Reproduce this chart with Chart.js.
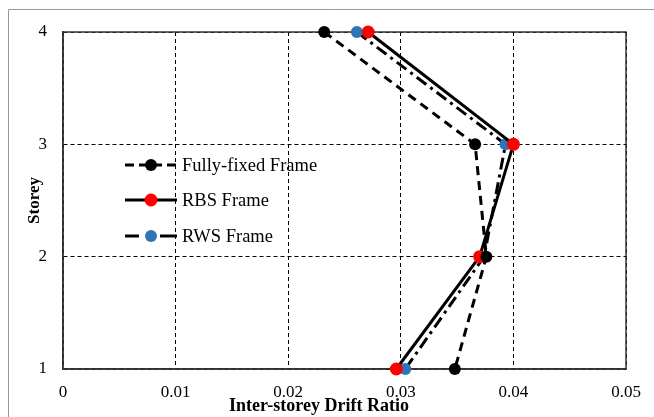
<!DOCTYPE html>
<html>
<head>
<meta charset="utf-8">
<script src="https://cdn.jsdelivr.net/npm/chart.js@4.4.1/dist/chart.umd.min.js"></script>
<style>
  html, body { margin: 0; padding: 0; background: #fff; }
  #wrap { width: 654px; height: 417px; position: relative; }
</style>
</head>
<body>
<div id="wrap"><canvas id="driftChart" width="654" height="417"></canvas></div>
<script>
// Storey levels and drift ratios
const storeys = [4, 3, 2, 1];
const fullyFixed = [0.0232, 0.0366, 0.0376, 0.0348];
const rbsFrame = [0.0271, 0.0400, 0.0370, 0.0296];
const rwsFrame = [0.0261, 0.0393, 0.0374, 0.0304];

const seriesNames = ['Fully-fixed Frame', 'RBS Frame', 'RWS Frame'];
const xTitle = 'Inter-storey Drift Ratio';

const serif = '"Liberation Serif", "Times New Roman", serif';

function toPoints(values) {
  return values.map((v, i) => ({ x: v, y: storeys[i] }));
}

// Legend drawn inside the plot area, like the original
const insideLegend = {
  id: 'insideLegend',
  afterDatasetsDraw(chart) {
    const ctx = chart.ctx;
    const rows = [165, 200, 236];
    ctx.save();
    chart.data.datasets.forEach((ds, i) => {
      const y = rows[i];
      ctx.strokeStyle = ds.borderColor;
      ctx.lineWidth = ds.borderWidth;
      ctx.setLineDash(ds.legendDash || []);
      ctx.beginPath();
      ctx.moveTo(125, y);
      ctx.lineTo(177, y);
      ctx.stroke();
      ctx.setLineDash([]);
      ctx.fillStyle = ds.pointBackgroundColor;
      ctx.beginPath();
      ctx.arc(151, y, ds.pointRadius, 0, Math.PI * 2);
      ctx.fill();
      ctx.fillStyle = '#000';
      ctx.font = '18.5px ' + serif;
      ctx.textBaseline = 'middle';
      ctx.fillText(ds.label, 182, y + 1);
    });
    ctx.restore();
  }
};

// Solid plot frame, light outer frame, and the x title (sits left of centre)
const frames = {
  id: 'frames',
  beforeDatasetsDraw(chart) {
    const { ctx, chartArea: a } = chart;
    ctx.save();
    ctx.strokeStyle = '#333';
    ctx.lineWidth = 1.5;
    ctx.strokeRect(a.left, a.top, a.right - a.left, a.bottom - a.top);
    ctx.strokeStyle = '#999';
    ctx.lineWidth = 1;
    ctx.beginPath();
    ctx.moveTo(8.5, 417);
    ctx.lineTo(8.5, 9.5);
    ctx.lineTo(654, 9.5);
    ctx.stroke();
    ctx.fillStyle = '#000';
    ctx.font = 'bold 18px ' + serif;
    ctx.textAlign = 'center';
    ctx.textBaseline = 'middle';
    ctx.fillText(xTitle, 319, 406);
    ctx.restore();
  }
};

new Chart(document.getElementById('driftChart'), {
  type: 'scatter',
  data: {
    datasets: [
      {
        label: seriesNames[0],
        data: toPoints(fullyFixed),
        showLine: true,
        clip: false,
        borderColor: '#000',
        borderWidth: 3,
        borderDash: [9, 6],
        legendDash: [9, 5],
        pointRadius: 6,
        pointBackgroundColor: '#000',
        pointBorderWidth: 0
      },
      {
        label: seriesNames[1],
        data: toPoints(rbsFrame),
        showLine: true,
        clip: false,
        borderColor: '#000',
        borderWidth: 3,
        borderDash: [],
        legendDash: [],
        pointRadius: 6.5,
        pointBackgroundColor: '#ff0000',
        pointBorderWidth: 0
      },
      {
        label: seriesNames[2],
        data: toPoints(rwsFrame),
        showLine: true,
        clip: false,
        borderColor: '#000',
        borderWidth: 3,
        borderDash: [12, 5, 3, 5],
        legendDash: [14, 21, 20],
        pointRadius: 6,
        pointBackgroundColor: '#2e75b6',
        pointBorderWidth: 0
      }
    ]
  },
  options: {
    responsive: false,
    animation: false,
    layout: { padding: { top: 32, right: 28, bottom: 0, left: 0 } },
    plugins: {
      legend: { display: false },
      tooltip: { enabled: false }
    },
    scales: {
      x: {
        type: 'linear',
        min: 0,
        max: 0.05,
        ticks: {
          stepSize: 0.01,
          padding: 13,
          color: '#000',
          font: { family: serif, size: 17 }
        },
        grid: { color: '#000', lineWidth: 1, drawTicks: false },
        border: { display: true, color: '#333', width: 1.5, dash: [4, 3] },
        afterFit(scale) { scale.height = 48; }
      },
      y: {
        type: 'linear',
        min: 1,
        max: 4,
        ticks: {
          stepSize: 1,
          padding: 16,
          color: '#000',
          font: { family: serif, size: 17 }
        },
        grid: { color: '#000', lineWidth: 1, drawTicks: false },
        border: { display: true, color: '#333', width: 1.5, dash: [4, 3] },
        title: {
          display: true,
          text: 'Storey',
          color: '#000',
          padding: { top: 24, bottom: 0 },
          font: { family: serif, size: 17, weight: 'bold' }
        },
        afterFit(scale) { scale.width = 63; }
      }
    }
  },
  plugins: [frames, insideLegend]
});
</script>
</body>
</html>
